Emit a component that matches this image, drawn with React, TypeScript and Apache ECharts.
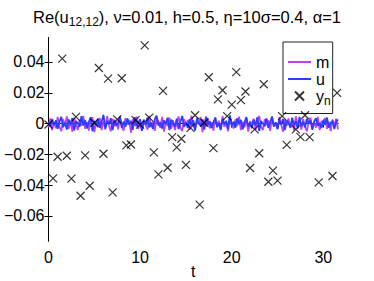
import React, { useEffect, useRef } from "react";
import * as echarts from "echarts";

// observation times (h = 0.5) and observed values y_n
const obsT = [0, 0.5, 1.0, 1.5, 2.0, 2.5, 3.0, 3.5, 4.0, 4.5, 5.0, 5.5, 6.0, 6.5, 7.0, 7.5, 8.0, 8.5, 9.0, 9.5,
  10.0, 10.5, 11.0, 11.5, 12.0, 12.5, 13.0, 13.5, 14.0, 14.5, 15.0, 15.5, 16.0, 16.5, 17.0, 17.5, 18.0, 18.5, 19.0, 19.5,
  20.0, 20.5, 21.0, 21.5, 22.0, 22.5, 23.0, 23.5, 24.0, 24.5, 25.0, 25.5, 26.0, 27.0, 27.5, 28.0, 28.5, 29.5, 31.0, 31.5];
const obsY = [-0.0006, -0.0356, -0.0216, 0.0422, -0.0209, -0.0358, 0.0043, -0.0469, -0.0207, -0.0404, 0.0005, 0.0361, -0.0196, 0.0292, -0.0447, 0.0027, 0.0294, -0.0142, -0.0136, 0.0022,
  -0.0007, 0.0508, 0.0038, -0.0187, -0.033, 0.0212, -0.0287, -0.0088, -0.0155, -0.0099, -0.0268, -0.0028, 0.0054, -0.0527, 0.0005, 0.0301, -0.016, 0.0157, 0.0216, 0.0048,
  0.0123, 0.0334, 0.0152, 0.0208, -0.0289, -0.0038, -0.0193, 0.0255, -0.0378, -0.0306, -0.0371, 0.0048, -0.0139, -0.0038, -0.0087, 0.0054, -0.0088, -0.0382, -0.0341, 0.0199];

// time step of the m and u traces
const dt = 0.2;
// u values (x 1e-3)
const uVals = [0.7, -1.7, 2.9, -1.1, 2.1, -3.4, 1.3, 4.3, -2.4, 0.6, -3.9, 2.7, -0.8, 3.6, -4.5, 1.5, 0.3, -2.1, 4.8, -1.3,
  2.2, -3.1, 1.0, 4.1, -5.0, 1.8, -0.6, 3.1, -2.7, 1.1, 5.7, -3.8, 1.4, -0.4, 3.5, -4.2, 2.4, -1.5, 0.8, 4.6,
  -2.8, 1.3, -2.2, 3.4, -0.7, 1.7, -4.1, 4.2, -1.8, 0.4, 2.8, -4.8, 2.1, -1.0, 3.9, -2.5, 0.6, -3.5, 2.7, 5.2,
  -1.4, 0.8, -3.2, 2.0, -0.3, 3.8, -4.3, 2.5, 0.1, -2.0, 3.2, -3.6, 1.1, 4.9, -2.1, 0.7, -2.8, 2.9, -1.3, 2.2,
  -4.6, 3.4, 0.4, -1.7, 2.7, -3.9, 4.5, -0.8, 1.5, -2.9, 1.0, 3.6, -2.4, 0.3, -4.2, 3.1, -0.6, 1.8, -3.4, 5.3,
  -1.5, 1.3, -2.7, 3.5, -0.4, 2.4, -3.8, 0.8, 4.2, -2.2, 0.6, -3.1, 2.5, -1.1, 4.1, -4.9, 1.7, 0.0, -1.8, 3.4,
  -2.8, 1.0, 4.6, -2.0, 0.7, -3.6, 2.2, -0.7, 2.9, -4.3, 2.0, 0.3, -2.5, 3.8, -1.0, 1.4, -3.2, 4.3, -1.7, 1.1,
  -2.4, 3.1, -0.1, 2.1, -4.1, 1.3, 3.4, -1.4, 0.4, -2.9, 2.2, -0.8, 3.9, -2.7, 0.6, 1.5, -3.5, 1.0, 2.7];
// m values (x 1e-3)
const mVals = [-2.5, 3.4, -4.2, 0.8, -3.1, 4.3, -2.0, -4.9, 2.8, -1.3, 4.6, -3.6, 1.7, -5.3, 3.8, -0.7, -4.1, 2.5, -1.5, 5.0,
  -3.4, 1.1, -4.5, 2.1, 4.1, -5.5, 0.6, -2.4, 3.6, -4.2, 1.5, -2.9, 4.8, -1.1, -5.0, 3.1, -1.8, 1.3, -3.8, 4.2,
  -2.1, -4.6, 3.5, -0.8, 2.4, -5.9, 2.9, -1.4, 4.5, -3.5, 0.4, -4.3, 2.7, -0.6, -3.9, 4.9, -2.2, 1.0, -4.8, 3.2,
  1.4, -2.8, 4.3, -5.2, 0.7, -1.7, 3.9, -3.4, 2.0, -4.2, 0.3, 4.6, -2.7, -4.9, 2.8, -1.0, 2.2, -4.1, 5.2, -1.5,
  -3.6, 1.8, -0.4, 4.2, -5.6, 2.5, -2.0, 3.4, -3.1, 0.8, -4.6, 4.1, -1.3, 1.7, -3.8, 4.8, -2.2, 0.1, -5.0, 3.6,
  -0.7, -3.2, 2.7, -1.7, 4.5, -4.2, 1.1, -2.5, 3.5, -5.2, 1.5, -0.3, 3.1, -4.1, 0.6, 5.0, -2.1, -4.3, 2.9, -1.1,
  2.1, -4.8, 3.8, -1.8, 0.8, -3.5, 4.2, -0.6, -5.3, 2.4, -1.4, 3.4, -2.9, 1.3, -4.5, 4.6, -0.8, 2.0, -3.9, 2.8,
  -2.0, -5.0, 1.4, 3.9, -3.2, 0.7, -2.7, 4.3, -4.2, 1.7, -1.0, 3.6, -3.4, 1.1, -4.9, 2.7, -1.5, 3.2, -3.8];

const xTicks = [0, 10, 20, 30];
const yTicks = [-0.06, -0.04, -0.02, 0, 0.02, 0.04];

const FONT = "Liberation Sans, Arial, Helvetica, sans-serif";
const M_COLOR = "#bf40ff";
const U_COLOR = "#2b3dff";

export default function App() {
  const ref = useRef<HTMLDivElement>(null);
  useEffect(() => {
    if (!ref.current) return;
    const chart = echarts.init(ref.current, null, { renderer: "svg" });
    const fmtY = (v: number) => (Math.abs(v) < 1e-9 ? "0" : v.toFixed(2).replace("-", "\u2212"));
    const uData = uVals.map((v, i) => [i * dt, v * 1e-3]);
    const mData = mVals.map((v, i) => [i * dt, v * 1e-3]);
    const scatterData = obsT.map((t, i) => [t, obsY[i]]);
    const axisLine = { show: true, lineStyle: { color: "#000", width: 1 } };
    const lineIcon = "path://M0 0H23V2H0Z";
    chart.setOption({
      animation: false,
      backgroundColor: "#fff",
      title: {
        text: "{a|Re(u}{s|12,12}{a|), \u03bd=0.01, h=0.5, \u03b7=10\u03c3=0.4, \u03b1=1}",
        left: "center",
        top: 3,
        textStyle: {
          fontWeight: "normal",
          rich: {
            a: { fontFamily: FONT, fontSize: 16.5, fontWeight: "normal", color: "#000", verticalAlign: "top", lineHeight: 18 },
            s: { fontFamily: FONT, fontSize: 12, fontWeight: "normal", color: "#000", verticalAlign: "top", lineHeight: 14, padding: [8, 0, 0, 0] },
          },
        },
      },
      grid: { left: 48.5, top: 37.5, right: 36, bottom: 40, containLabel: false, outerBoundsMode: "none" },
      legend: {
        orient: "vertical",
        left: 283,
        top: 42,
        padding: [12, 2, 7, 5],
        itemGap: 1,
        itemWidth: 23,
        itemHeight: 9,
        borderColor: "#222",
        borderWidth: 1,
        borderRadius: 0,
        backgroundColor: "#fff",
        textStyle: {
          fontFamily: FONT,
          fontSize: 16,
          color: "#000",
          rich: {
            sub: { fontFamily: FONT, fontSize: 12, color: "#000", verticalAlign: "top", padding: [9, 0, 0, 0] },
          },
        },
        formatter: (name: string) => (name === "yn" ? "y{sub|n}" : name),
        data: [
          { name: "m", icon: lineIcon },
          { name: "u", icon: lineIcon },
          { name: "yn" },
        ],
      },
      xAxis: [
        {
          type: "value",
          min: 0,
          max: 31.6,
          position: "bottom",
          axisLine,
          axisTick: { show: true, inside: true, length: 4, customValues: xTicks, lineStyle: { color: "#000" } },
          axisLabel: { customValues: xTicks, fontFamily: FONT, fontSize: 16, color: "#000", margin: 8 },
          splitLine: { show: false },
          name: "t",
          nameLocation: "middle",
          nameGap: 22,
          nameMoveOverlap: false,
          nameTextStyle: { fontFamily: FONT, fontSize: 16, color: "#000" },
        },
        {
          type: "value",
          min: 0,
          max: 31.6,
          position: "top",
          axisLine,
          axisTick: { show: true, inside: true, length: 4, customValues: xTicks, lineStyle: { color: "#000" } },
          axisLabel: { show: false },
          splitLine: { show: false },
        },
      ],
      yAxis: [
        {
          type: "value",
          min: -0.0763,
          max: 0.0559,
          position: "left",
          axisLine,
          axisTick: { show: true, inside: true, length: 4, customValues: yTicks, lineStyle: { color: "#000" } },
          axisLabel: { customValues: yTicks, fontFamily: FONT, fontSize: 16, color: "#000", margin: 4, formatter: fmtY },
          splitLine: { show: false },
        },
        {
          type: "value",
          min: -0.0763,
          max: 0.0559,
          position: "right",
          axisLine,
          axisTick: { show: true, inside: true, length: 4, customValues: yTicks, lineStyle: { color: "#000" } },
          axisLabel: { show: false },
          splitLine: { show: false },
        },
      ],
      series: [
        {
          name: "m",
          type: "line",
          data: mData,
          showSymbol: false,
          symbol: "none",
          lineStyle: { color: M_COLOR, width: 1.8 },
          itemStyle: { color: M_COLOR },
          z: 2,
        },
        {
          name: "u",
          type: "line",
          data: uData,
          showSymbol: false,
          symbol: "none",
          lineStyle: { color: U_COLOR, width: 1.8 },
          itemStyle: { color: U_COLOR },
          z: 3,
        },
        {
          name: "yn",
          type: "scatter",
          data: scatterData,
          symbol: "path://M0 0L10 10M10 0L0 10",
          symbolSize: 8,
          itemStyle: { color: "rgba(0,0,0,0)", borderColor: "#000", borderWidth: 1.2 },
          z: 4,
        },
      ],
    });
    return () => chart.dispose();
  }, []);
  return <div ref={ref} style={{ width: 374, height: 281, position: "absolute", left: 0, top: 0 }} />;
}
